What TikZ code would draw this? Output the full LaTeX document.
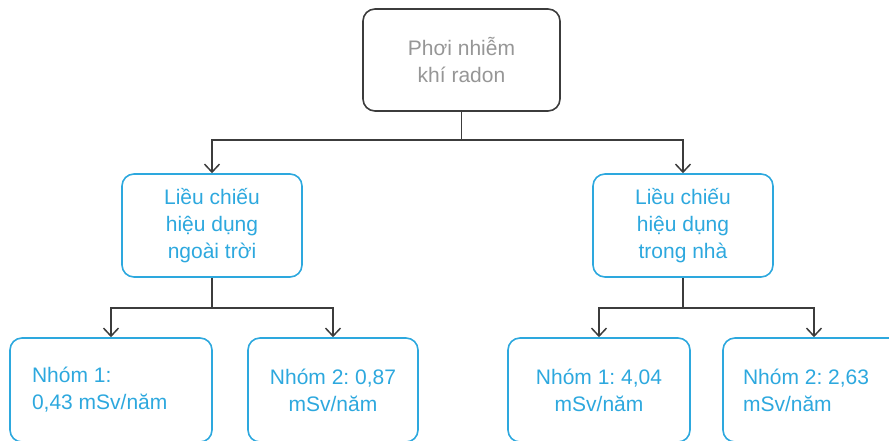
\documentclass[tikz,border=0pt]{standalone}
\usepackage{fontspec}
\setmainfont{Liberation Sans}
\usetikzlibrary{arrows.meta}
\frenchspacing
\definecolor{skyline}{RGB}{45,168,222}
\definecolor{greytext}{RGB}{150,150,150}
\definecolor{darkline}{RGB}{60,60,60}
\tikzset{
  box/.style={draw=skyline, text=skyline, line width=1.6pt, rounded corners=12pt,
    align=center, font=\fontsize{21}{27}\selectfont\frenchspacing, inner sep=0pt},
  rootbox/.style={box, draw=darkline, text=greytext},
  link/.style={draw=darkline, line width=1.5pt},
  arr/.style={link, -{Straight Barb[length=8pt,width=15pt,line width=1.5pt]}}
}
\begin{document}
\begin{tikzpicture}[x=1pt,y=-1pt]
  \useasboundingbox (0,0) rectangle (889,441);
  \clip (0,0) rectangle (889,441);
  % top
  \node[rootbox, minimum width=197pt, minimum height=102pt] (expo) at (461.5,60) {Phơi nhiễm\\khí radon};
  % second row
  \node[box, minimum width=180pt, minimum height=103pt] (outdoor) at (212,225.5) {Liều chiếu\\hiệu dụng\\ngoài trời};
  \node[box, minimum width=180pt, minimum height=103pt] (indoor) at (683,225.5) {Liều chiếu\\hiệu dụng\\trong nhà};
  % groups
  \node[box, minimum width=202pt, minimum height=104pt, text width=158pt, align=flush left] (outA) at (111,390) {Nhóm 1:\\0,43 mSv/năm};
  \node[box, minimum width=170pt, minimum height=104pt] (outB) at (333,390) {Nhóm 2: 0,87\\mSv/năm};
  \node[box, minimum width=182pt, minimum height=104pt] (inA) at (599,390) {Nhóm 1: 4,04\\mSv/năm};
  \node[box, minimum width=182pt, minimum height=104pt, text width=142pt, align=flush left] (inB) at (814,390) {Nhóm 2: 2,63\\mSv/năm};
  % connectors
  \coordinate (j0) at (461.5,140);
  \coordinate (j1) at (212,308);
  \coordinate (j2) at (683,308);
  \draw[link] (expo) -- (j0);
  \draw[arr] (j0) -| (outdoor);
  \draw[arr] (j0) -| (indoor);
  \draw[link] (outdoor) -- (j1);
  \draw[arr] (j1) -| (outA);
  \draw[arr] (j1) -| (outB);
  \draw[link] (indoor) -- (j2);
  \draw[arr] (j2) -| (inA);
  \draw[arr] (j2) -| (inB);
\end{tikzpicture}
\end{document}
